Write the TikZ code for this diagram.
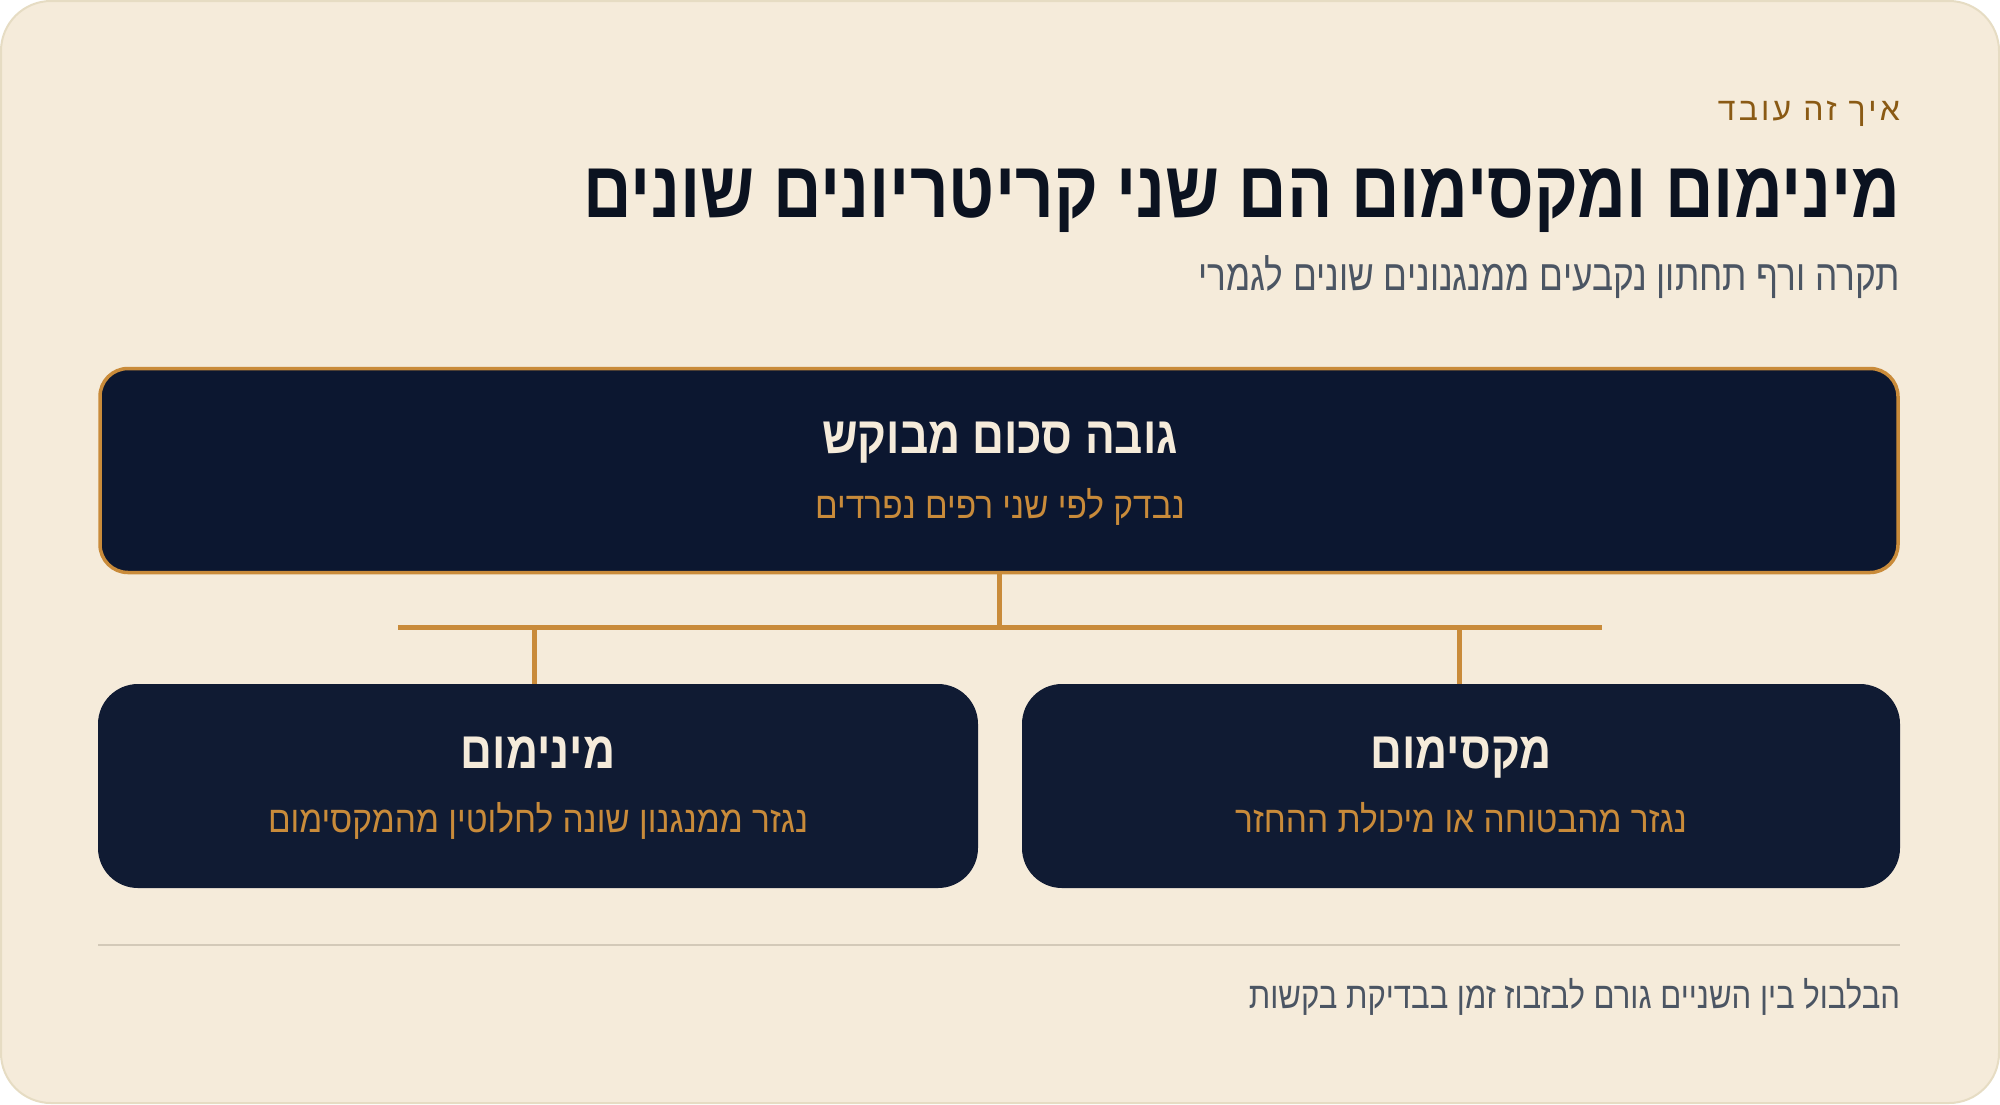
\documentclass[tikz,border=0pt]{standalone}
\usepackage{fontspec}
\TeXXeTstate=1
\newfontfamily\hetitle[Script=Hebrew,FakeStretch=0.84]{Liberation Sans}
\newfontfamily\hesubt[Script=Hebrew,FakeStretch=0.82]{Liberation Sans}
\newfontfamily\hefoot[Script=Hebrew,FakeStretch=0.84]{Liberation Sans}
\newfontfamily\hebox[Script=Hebrew,FakeStretch=0.85]{Liberation Sans}
\newfontfamily\heboxsub[Script=Hebrew,FakeStretch=0.905]{Liberation Sans}
\newfontfamily\heeye[Script=Hebrew,LetterSpace=10]{Liberation Sans}
\definecolor{pagebg}{HTML}{F5EBDA}
\definecolor{cardline}{HTML}{E6DCC3}
\definecolor{navytop}{HTML}{0C1730}
\definecolor{navybot}{HTML}{101B33}
\definecolor{gold}{HTML}{C98B3A}
\definecolor{brownish}{HTML}{8A5A14}
\definecolor{ink}{HTML}{0B1220}
\definecolor{slate}{HTML}{4B5563}
\definecolor{cream}{HTML}{F5EBDA}
\definecolor{rulecol}{HTML}{D3C9B8}
\begin{document}
\begin{tikzpicture}[x=1pt,y=-1pt,
  txt/.style={inner sep=0pt, outer sep=0pt},
  boxtop/.style={draw=gold, line width=3.5pt, fill=navytop, rounded corners=28pt, minimum width=1798pt, minimum height=204pt, inner sep=0pt},
  boxbot/.style={fill=navybot, rounded corners=40pt, minimum height=204pt, inner sep=0pt},
  conn/.style={draw=gold, line width=5pt},
  boxtitle/.style={txt, text=cream, font=\hebox\bfseries\fontsize{52}{60}\selectfont, anchor=base},
  boxsub/.style={txt, text=gold, font=\heboxsub\fontsize{37}{44}\selectfont, anchor=base}
]
\useasboundingbox (0,0) rectangle (2000,1104);
\fill[white] (0,0) rectangle (2000,1104);
\draw[cardline, fill=pagebg, line width=2pt, rounded corners=50pt] (1,1) rectangle (1999,1103);

\node[txt, anchor=base east, text=brownish, font=\heeye\fontsize{32}{38}\selectfont] (eyebrow) at (1900,120) {\beginR איך זה עובד\endR};
\node[txt, anchor=base east, text=ink, font=\hetitle\bfseries\fontsize{80}{90}\selectfont] (title) at (1900,217) {\beginR מינימום ומקסימום הם שני קריטריונים שונים\endR};
\node[txt, anchor=base east, text=slate, font=\hesubt\fontsize{43}{50}\selectfont] (subtitle) at (1900,290) {\beginR תקרה ורף תחתון נקבעים ממנגנונים שונים לגמרי\endR};

\node[boxtop] (top) at (999,470.5) {};
\node[boxtitle] (toptitle) at (1000,453) {\beginR גובה סכום מבוקש\endR};
\node[boxsub] (topsub) at (1000,518) {\beginR נבדק לפי שני רפים נפרדים\endR};

\node[boxbot, minimum width=880pt] (minb) at (538,786) {};
\node[boxbot, minimum width=878pt] (maxb) at (1461,786) {};
\node[boxtitle] (mintitle) at (538,768) {\beginR מינימום\endR};
\node[boxsub] (minsub) at (538,832) {\beginR נגזר ממנגנון שונה לחלוטין מהמקסימום\endR};
\node[boxtitle] (maxtitle) at (1461,768) {\beginR מקסימום\endR};
\node[boxsub] (maxsub) at (1461,832) {\beginR נגזר מהבטוחה או מיכולת ההחזר\endR};

\coordinate (junc) at (999,627);
\coordinate (barl) at (398,627);
\coordinate (barr) at (1602,627);
\coordinate (dropl) at (534,627);
\coordinate (dropr) at (1459,627);
\draw[conn] (top.south) -- (junc);
\draw[conn] (barl) -- (barr);
\draw[conn] (dropl) -- (dropl |- minb.north);
\draw[conn] (dropr) -- (dropr |- maxb.north);

\coordinate (rulel) at (98,945);
\coordinate (ruler) at (1900,945);
\draw[rulecol, line width=2pt] (rulel) -- (ruler);
\node[txt, anchor=base east, text=slate, font=\hefoot\fontsize{37}{44}\selectfont] (footer) at (1900,1008) {\beginR הבלבול בין השניים גורם לבזבוז זמן בבדיקת בקשות\endR};
\end{tikzpicture}
\end{document}
